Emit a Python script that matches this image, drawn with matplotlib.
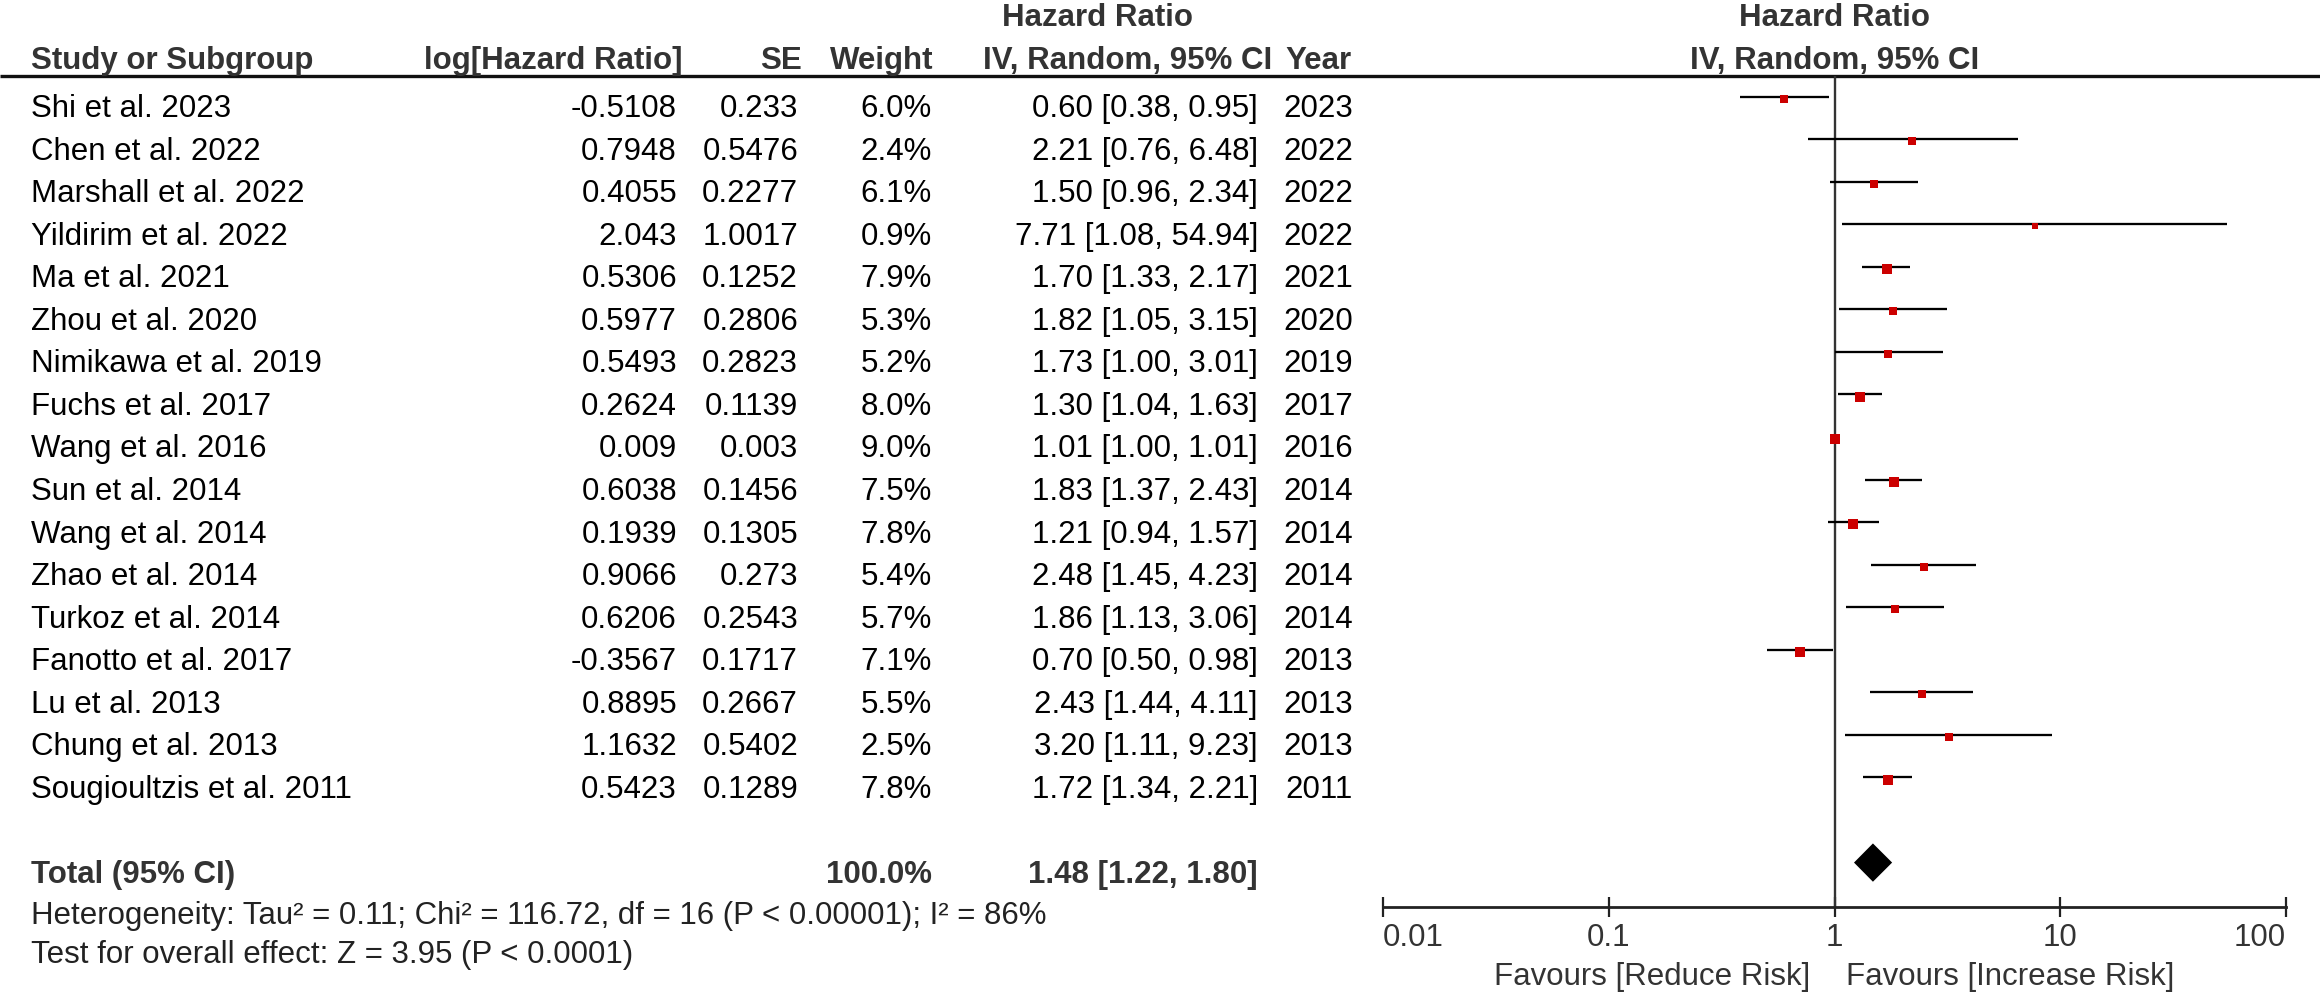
import numpy as np
import matplotlib
matplotlib.use("Agg")
import matplotlib.pyplot as plt

plt.rcParams["font.family"] = ["Liberation Sans", "DejaVu Sans"]
plt.rcParams["font.size"] = 22.5

# study data
studies = ["Shi et al. 2023", "Chen et al. 2022", "Marshall et al. 2022", "Yildirim et al. 2022",
           "Ma et al. 2021", "Zhou et al. 2020", "Nimikawa et al. 2019", "Fuchs et al. 2017",
           "Wang et al. 2016", "Sun et al. 2014", "Wang et al. 2014", "Zhao et al. 2014",
           "Turkoz et al. 2014", "Fanotto et al. 2017", "Lu et al. 2013", "Chung et al. 2013",
           "Sougioultzis et al. 2011"]
log_hr = [-0.5108, 0.7948, 0.4055, 2.043, 0.5306, 0.5977, 0.5493, 0.2624, 0.009,
          0.6038, 0.1939, 0.9066, 0.6206, -0.3567, 0.8895, 1.1632, 0.5423]
se = [0.233, 0.5476, 0.2277, 1.0017, 0.1252, 0.2806, 0.2823, 0.1139, 0.003,
      0.1456, 0.1305, 0.273, 0.2543, 0.1717, 0.2667, 0.5402, 0.1289]
weight = [6.0, 2.4, 6.1, 0.9, 7.9, 5.3, 5.2, 8.0, 9.0, 7.5, 7.8, 5.4, 5.7, 7.1, 5.5, 2.5, 7.8]
hr = [0.60, 2.21, 1.50, 7.71, 1.70, 1.82, 1.73, 1.30, 1.01, 1.83, 1.21, 2.48, 1.86, 0.70, 2.43, 3.20, 1.72]
ci_lo = [0.38, 0.76, 0.96, 1.08, 1.33, 1.05, 1.00, 1.04, 1.00, 1.37, 0.94, 1.45, 1.13, 0.50, 1.44, 1.11, 1.34]
ci_hi = [0.95, 6.48, 2.34, 54.94, 2.17, 3.15, 3.01, 1.63, 1.01, 2.43, 1.57, 4.23, 3.06, 0.98, 4.11, 9.23, 2.21]
year = [2023, 2022, 2022, 2022, 2021, 2020, 2019, 2017, 2016, 2014, 2014, 2014, 2014, 2013, 2013, 2013, 2011]

total_hr, total_lo, total_hi = 1.48, 1.22, 1.80
total_weight = 100.0
heterogeneity = "Heterogeneity: Tau² = 0.11; Chi² = 116.72, df = 16 (P < 0.00001); I² = 86%"
overall = "Test for overall effect: Z = 3.95 (P < 0.0001)"
ticks = [0.01, 0.1, 1, 10, 100]
tick_labels = ["0.01", "0.1", "1", "10", "100"]

W, H = 2320, 995
pitch = 42.56
y0 = 97.5
ylim = ((H - y0) / pitch, -y0 / pitch)
n = len(studies)
rows = np.arange(n)
total_row = n + 1
txt = 0.27           # text sits a little lower than the CI lines
head_col = "#333333"

fig = plt.figure(figsize=(W / 100, H / 100), dpi=100, facecolor="w")

# ---- table part ----
ax_t = fig.add_axes([0, 0, 1, 1])
ax_t.set_xlim(0, W)
ax_t.set_ylim(*ylim)
ax_t.axis("off")

hrow1, hrow2 = -1.87, -0.86
ax_t.text(1098, hrow1, "Hazard Ratio", ha="center", va="center", weight="bold", color=head_col)
ax_t.text(31, hrow2, "Study or Subgroup", ha="left", va="center", weight="bold", color=head_col)
ax_t.text(682, hrow2, "log[Hazard Ratio]", ha="right", va="center", weight="bold", color=head_col)
ax_t.text(802, hrow2, "SE", ha="right", va="center", weight="bold", color=head_col)
ax_t.text(933, hrow2, "Weight", ha="right", va="center", weight="bold", color=head_col)
ax_t.text(1272, hrow2, "IV, Random, 95% CI", ha="right", va="center", weight="bold", color=head_col)
ax_t.text(1352, hrow2, "Year", ha="right", va="center", weight="bold", color=head_col)
ax_t.hlines(-0.48, 0, W, color="#111111", lw=2.4)

for i in range(n):
    r = rows[i] + txt
    ax_t.text(31, r, studies[i], ha="left", va="center", color="black")
    ax_t.text(677, r, str(log_hr[i]), ha="right", va="center", color="black")
    ax_t.text(798, r, str(se[i]), ha="right", va="center", color="black")
    ax_t.text(932, r, f"{weight[i]:.1f}%", ha="right", va="center", color="black")
    ax_t.text(1258, r, f"{hr[i]:.2f} [{ci_lo[i]:.2f}, {ci_hi[i]:.2f}]", ha="right", va="center", color="black")
    ax_t.text(1353, r, str(year[i]), ha="right", va="center", color="black")

ax_t.text(31, total_row + txt, "Total (95% CI)", ha="left", va="center", weight="bold", color=head_col)
ax_t.text(932, total_row + txt, f"{total_weight:.1f}%", ha="right", va="center", weight="bold", color=head_col)
ax_t.text(1258, total_row + txt, f"{total_hr:.2f} [{total_lo:.2f}, {total_hi:.2f}]",
          ha="right", va="center", weight="bold", color=head_col)
ax_t.text(31, 19.23, heterogeneity, ha="left", va="center", color="#222222")
ax_t.text(31, 20.15, overall, ha="left", va="center", color="#222222")

# ---- forest plot part ----
axis_row = 19.04
ax = fig.add_axes([1383 / W, 0, (2286 - 1383) / W, 1])
ax.set_facecolor("none")
ax.set_xscale("log")
ax.set_xlim(0.01, 100)
ax.set_ylim(*ylim)
for s in ["top", "left", "right"]:
    ax.spines[s].set_visible(False)
ax.spines["bottom"].set_position(("data", axis_row))
ax.spines["bottom"].set_linewidth(2.0)
ax.spines["bottom"].set_color("#222222")
ax.set_yticks([])
ax.set_xticks(ticks)
ax.set_xticklabels(tick_labels)
ax.xaxis.set_minor_locator(matplotlib.ticker.NullLocator())
ax.tick_params(axis="x", direction="inout", length=14.4, width=1.6, color="#222222",
               pad=4, labelsize=22.5, labelcolor=head_col)
labs = ax.get_xticklabels()
labs[0].set_ha("left")
labs[-1].set_ha("right")

ax.vlines(1, -0.48, axis_row, color="#333333", lw=1.7)
ax.hlines(rows, ci_lo, ci_hi, color="black", lw=1.65)
sizes = [(4.5 + 1.8 * np.sqrt(w)) / 1.389 for w in weight]
for i in range(n):
    ax.plot(hr[i], rows[i] + 0.05, marker="s", ms=sizes[i], color="#cc0000", mew=0, ls="none")
ax.fill([total_lo, total_hr, total_hi, total_hr],
        [total_row, total_row - 0.45, total_row, total_row + 0.45], color="black", lw=0)

ax.text(1, hrow1, "Hazard Ratio", ha="center", va="center", weight="bold", color=head_col)
ax.text(1, hrow2, "IV, Random, 95% CI", ha="center", va="center", weight="bold", color=head_col)
ax.annotate("Favours [Reduce Risk]", xy=(1, 20.67), xytext=(-17.3, 0), textcoords="offset points",
            ha="right", va="center", color=head_col)
ax.annotate("Favours [Increase Risk]", xy=(1, 20.67), xytext=(8.6, 0), textcoords="offset points",
            ha="left", va="center", color=head_col)

fig.savefig("out.png", dpi=100, facecolor="w")
